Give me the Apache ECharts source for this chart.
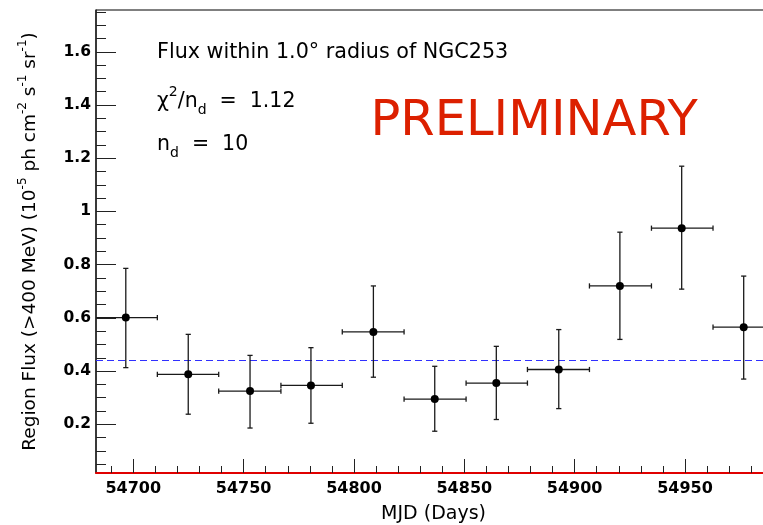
<!DOCTYPE html>
<html>
<head>
<meta charset="utf-8">
<script src="https://cdn.jsdelivr.net/npm/echarts@6/dist/echarts.min.js"></script>
<style>
  html, body { margin: 0; padding: 0; background: #fff; }
  #chart { width: 763px; height: 525px; }
</style>
</head>
<body>
<div id="chart"></div>
<script>
// Light-curve bins (MJD) and region flux in units of 1e-5 ph cm^-2 s^-1 sr^-1
const binCenters = [54696.6, 54724.9, 54752.9, 54780.5, 54808.8, 54836.6, 54864.5, 54892.8, 54920.5, 54948.5, 54976.6];
const binLow     = [54682.3, 54710.9, 54738.7, 54766.9, 54794.7, 54822.7, 54850.8, 54878.6, 54906.7, 54934.8, 54962.7];
const binHigh    = [54710.9, 54738.7, 54766.9, 54794.7, 54822.7, 54850.8, 54878.6, 54906.7, 54934.8, 54962.7, 54990.6];
const flux       = [0.601, 0.388, 0.325, 0.346, 0.547, 0.295, 0.355, 0.406, 0.720, 0.937, 0.565];
const fluxLow    = [0.413, 0.238, 0.186, 0.204, 0.377, 0.174, 0.218, 0.259, 0.519, 0.708, 0.370];
const fluxHigh   = [0.786, 0.538, 0.459, 0.488, 0.720, 0.418, 0.493, 0.556, 0.922, 1.170, 0.757];
const meanFlux = 0.438;

// Axis ranges and tick marks
const xRange = [54683.1, 54989];
const yRange = [0.017, 1.757];
const xMajorTicks = [54700, 54750, 54800, 54850, 54900, 54950];
const yMajorTicks = [0.2, 0.4, 0.6, 0.8, 1.0, 1.2, 1.4, 1.6];
const xMinorStep = 10;
const yMinorStep = 0.05;

// Text shown on the plot
const fitTitle = 'Flux within 1.0\u00b0 radius of NGC253';
const chi2Value = '1.12';
const ndfValue = '10';
const stampText = 'PRELIMINARY';

function minorTicks(lo, hi, step, majors) {
  const out = [];
  const n0 = Math.ceil(lo / step - 1e-9), n1 = Math.floor(hi / step + 1e-9);
  for (let n = n0; n <= n1; n++) {
    const v = +(n * step).toFixed(6);
    if (!majors.some(m => Math.abs(m - v) < step * 1e-3)) out.push(v);
  }
  return out;
}
const xMinorTicks = minorTicks(xRange[0], xRange[1], xMinorStep, xMajorTicks);
const yMinorTicks = minorTicks(yRange[0], yRange[1], yMinorStep, yMajorTicks);

const FONT = '"DejaVu Sans", "Liberation Sans", Arial, sans-serif';
const TICK_COLOR = '#222';

const pointData = binCenters.map((c, i) => [c, flux[i], fluxLow[i], fluxHigh[i], binLow[i], binHigh[i]]);

const chart = echarts.init(document.getElementById('chart'), null, { renderer: 'canvas' });

const option = {
  animation: false,
  backgroundColor: '#fff',
  grid: {
    left: 96, top: 10,
    width: (xRange[1] - xRange[0]) * 2.2068,
    height: 463,
    show: true,
    borderColor: '#000',
    borderWidth: 1,
    backgroundColor: 'transparent',
    containLabel: false,
    outerBoundsMode: 'none'
  },
  xAxis: [
    {
      type: 'value', min: xRange[0], max: xRange[1], position: 'bottom',
      axisLine: { show: true, onZero: false, lineStyle: { color: '#e00000', width: 2 } },
      axisTick: { show: true, inside: true, length: 14, customValues: xMajorTicks, lineStyle: { color: TICK_COLOR, width: 1 } },
      axisLabel: {
        show: true, customValues: xMajorTicks, margin: 8,
        fontFamily: FONT, fontWeight: 'bold', fontSize: 16, color: '#000',
        formatter: v => String(v)
      },
      splitLine: { show: false },
      name: 'MJD (Days)', nameLocation: 'middle', nameGap: 32, nameMoveOverlap: false,
      nameTextStyle: { fontFamily: FONT, fontSize: 19, color: '#000' }
    },
    {
      type: 'value', min: xRange[0], max: xRange[1], position: 'bottom',
      axisLine: { show: false },
      axisTick: { show: true, inside: true, length: 7, customValues: xMinorTicks, lineStyle: { color: TICK_COLOR, width: 1 } },
      axisLabel: { show: false },
      splitLine: { show: false }
    }
  ],
  yAxis: [
    {
      type: 'value', min: yRange[0], max: yRange[1], position: 'left',
      axisLine: { show: true, onZero: false, lineStyle: { color: '#222', width: 1.5 } },
      axisTick: { show: true, inside: true, length: 20, customValues: yMajorTicks, lineStyle: { color: TICK_COLOR, width: 1 } },
      axisLabel: {
        show: true, customValues: yMajorTicks, margin: 5,
        fontFamily: FONT, fontWeight: 'bold', fontSize: 15.5, color: '#000',
        formatter: v => String(+v.toFixed(2))
      },
      splitLine: { show: false },
      name: '{t|Region Flux (>400 MeV) (10}{s|-5}{t| ph cm}{s|-2}{t| s}{s|-1}{t| sr}{s|-1}{t|)}',
      nameLocation: 'middle', nameRotate: 90, nameGap: 53, nameMoveOverlap: false,
      nameTextStyle: {
        rich: {
          t: { fontFamily: FONT, fontSize: 18.5, color: '#000', lineHeight: 26 },
          s: { fontFamily: FONT, fontSize: 12, color: '#000', lineHeight: 16, verticalAlign: 'top' }
        }
      }
    },
    {
      type: 'value', min: yRange[0], max: yRange[1], position: 'left',
      axisLine: { show: false },
      axisTick: { show: true, inside: true, length: 10, customValues: yMinorTicks, lineStyle: { color: TICK_COLOR, width: 1 } },
      axisLabel: { show: false },
      splitLine: { show: false }
    }
  ],
  series: [
    {
      // error bars: vertical = flux uncertainty, horizontal = time bin
      type: 'custom',
      xAxisIndex: 0, yAxisIndex: 0,
      clip: true,
      z: 3,
      data: pointData,
      renderItem: function (params, api) {
        const x = api.value(0), y = api.value(1);
        const lo = api.value(2), hi = api.value(3);
        const xl = api.value(4), xh = api.value(5);
        const c = api.coord([x, y]);
        const pLo = api.coord([x, lo]);
        const pHi = api.coord([x, hi]);
        const pL = api.coord([xl, y]);
        const pR = api.coord([xh, y]);
        const cap = 2.6;
        const st = { stroke: '#1a1a1a', lineWidth: 1.3, fill: null };
        const seg = (x1, y1, x2, y2) => ({ type: 'line', shape: { x1, y1, x2, y2 }, style: st });
        return {
          type: 'group',
          children: [
            seg(c[0], pHi[1], c[0], pLo[1]),
            seg(c[0] - cap, pHi[1], c[0] + cap, pHi[1]),
            seg(c[0] - cap, pLo[1], c[0] + cap, pLo[1]),
            seg(pL[0], c[1], pR[0], c[1]),
            seg(pL[0], c[1] - cap, pL[0], c[1] + cap),
            seg(pR[0], c[1] - cap, pR[0], c[1] + cap)
          ]
        };
      }
    },
    {
      type: 'scatter',
      xAxisIndex: 0, yAxisIndex: 0,
      symbol: 'circle', symbolSize: 8,
      itemStyle: { color: '#000', opacity: 1 },
      z: 4,
      data: binCenters.map((c, i) => [c, flux[i]]),
      markLine: {
        silent: true, symbol: 'none', z: 2,
        label: { show: false },
        lineStyle: { color: '#3030ff', type: [7, 4], width: 1, opacity: 1 },
        data: [{ yAxis: meanFlux }]
      }
    }
  ],
  graphic: [
    {
      type: 'text', x: 157, y: 52.2, z: 10,
      style: { text: fitTitle, fontFamily: FONT, fontSize: 20.7, fill: '#000', verticalAlign: 'middle' }
    },
    {
      type: 'text', x: 157, y: 85.2, z: 10,
      style: {
        text: '{m|\u03c7}{sup|2}{m|/n}{sub|d}{m|  =  ' + chi2Value + '}',
        verticalAlign: 'top',
        rich: {
          m: { fontFamily: FONT, fontSize: 20.5, fill: '#000', lineHeight: 32 },
          sup: { fontFamily: FONT, fontSize: 14, fill: '#000', lineHeight: 28, verticalAlign: 'top' },
          sub: { fontFamily: FONT, fontSize: 14, fill: '#000', lineHeight: 9.4, verticalAlign: 'bottom' }
        }
      }
    },
    {
      type: 'text', x: 157, y: 128.6, z: 10,
      style: {
        text: '{m|n}{sub|d}{m|  =  ' + ndfValue + '}',
        verticalAlign: 'top',
        rich: {
          m: { fontFamily: FONT, fontSize: 20.5, fill: '#000', lineHeight: 32 },
          sub: { fontFamily: FONT, fontSize: 14, fill: '#000', lineHeight: 9.4, verticalAlign: 'bottom' }
        }
      }
    },
    {
      type: 'text', x: 370.5, y: 121.7, z: 10,
      style: { text: stampText, fontFamily: FONT, fontSize: 49.5, fill: '#dc2000', verticalAlign: 'middle' }
    }
  ]
};

chart.setOption(option);
</script>
</body>
</html>
